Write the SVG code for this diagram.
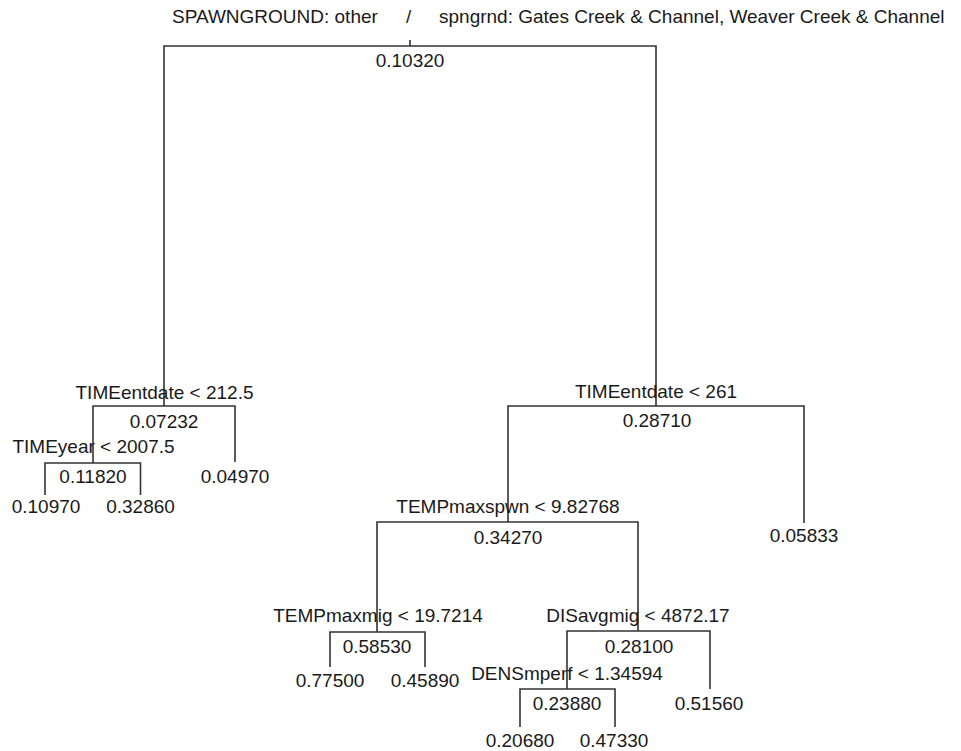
<svg xmlns="http://www.w3.org/2000/svg" width="961" height="751" viewBox="0 0 961 751">
<style>
text{font-family:"Liberation Sans",Arial,Helvetica,sans-serif;font-size:19px;fill:#1a1a1a;text-anchor:middle}
.t{text-anchor:start}
.e{fill:none;stroke:#333;stroke-width:1.6}
</style>
<rect width="961" height="751" fill="#fff"/>
<g id="title"><text class="t" y="23"><tspan x="172">SPAWNGROUND: other</tspan><tspan x="406">/</tspan><tspan x="439">spngrnd: Gates Creek &amp; Channel, Weaver Creek &amp; Channel</tspan></text></g>
<g id="connectors">
<path class="e" d="M410 40 V46"/>
<path class="e" d="M410 46 H164 V406"/>
<path class="e" d="M410 46 H656 V406"/>
<path class="e" d="M164 406 H93 V463"/>
<path class="e" d="M164 406 H235 V462"/>
<path class="e" d="M93 463 H45 V495"/>
<path class="e" d="M93 463 H140.5 V495"/>
<path class="e" d="M656 406 H508 V522"/>
<path class="e" d="M656 406 H804 V523"/>
<path class="e" d="M508 522 H377 V632"/>
<path class="e" d="M508 522 H638 V631"/>
<path class="e" d="M377 632 H330 V667"/>
<path class="e" d="M377 632 H425 V667"/>
<path class="e" d="M638 631 H567 V689"/>
<path class="e" d="M638 631 H710 V689"/>
<path class="e" d="M567 689 H520 V727"/>
<path class="e" d="M567 689 H615 V727"/>
</g>
<g id="root"><text x="410" y="67">0.10320</text></g>
<g id="n-timeentdate-212"><text x="164.5" y="399">TIMEentdate &lt; 212.5</text><text x="164" y="428">0.07232</text></g>
<g id="n-timeyear"><text x="93.5" y="453">TIMEyear &lt; 2007.5</text><text x="93" y="483">0.11820</text></g>
<g id="leaf-010970"><text x="46" y="513">0.10970</text></g>
<g id="leaf-032860"><text x="140.5" y="513">0.32860</text></g>
<g id="leaf-004970"><text x="235" y="483">0.04970</text></g>
<g id="n-timeentdate-261"><text x="656" y="398">TIMEentdate &lt; 261</text><text x="657" y="427">0.28710</text></g>
<g id="n-tempmaxspwn"><text x="508" y="513">TEMPmaxspwn &lt; 9.82768</text><text x="508" y="544">0.34270</text></g>
<g id="leaf-005833"><text x="804" y="542">0.05833</text></g>
<g id="n-tempmaxmig"><text x="378" y="622">TEMPmaxmig &lt; 19.7214</text><text x="377" y="653">0.58530</text></g>
<g id="leaf-077500"><text x="330" y="687">0.77500</text></g>
<g id="leaf-045890"><text x="425" y="687">0.45890</text></g>
<g id="n-disavgmig"><text x="638" y="622">DISavgmig &lt; 4872.17</text><text x="639" y="653">0.28100</text></g>
<g id="n-densmperf"><text x="567" y="680">DENSmperf &lt; 1.34594</text><text x="567" y="710">0.23880</text></g>
<g id="leaf-051560"><text x="709" y="710">0.51560</text></g>
<g id="leaf-020680"><text x="520" y="747">0.20680</text></g>
<g id="leaf-047330"><text x="614" y="747">0.47330</text></g>
</svg>
